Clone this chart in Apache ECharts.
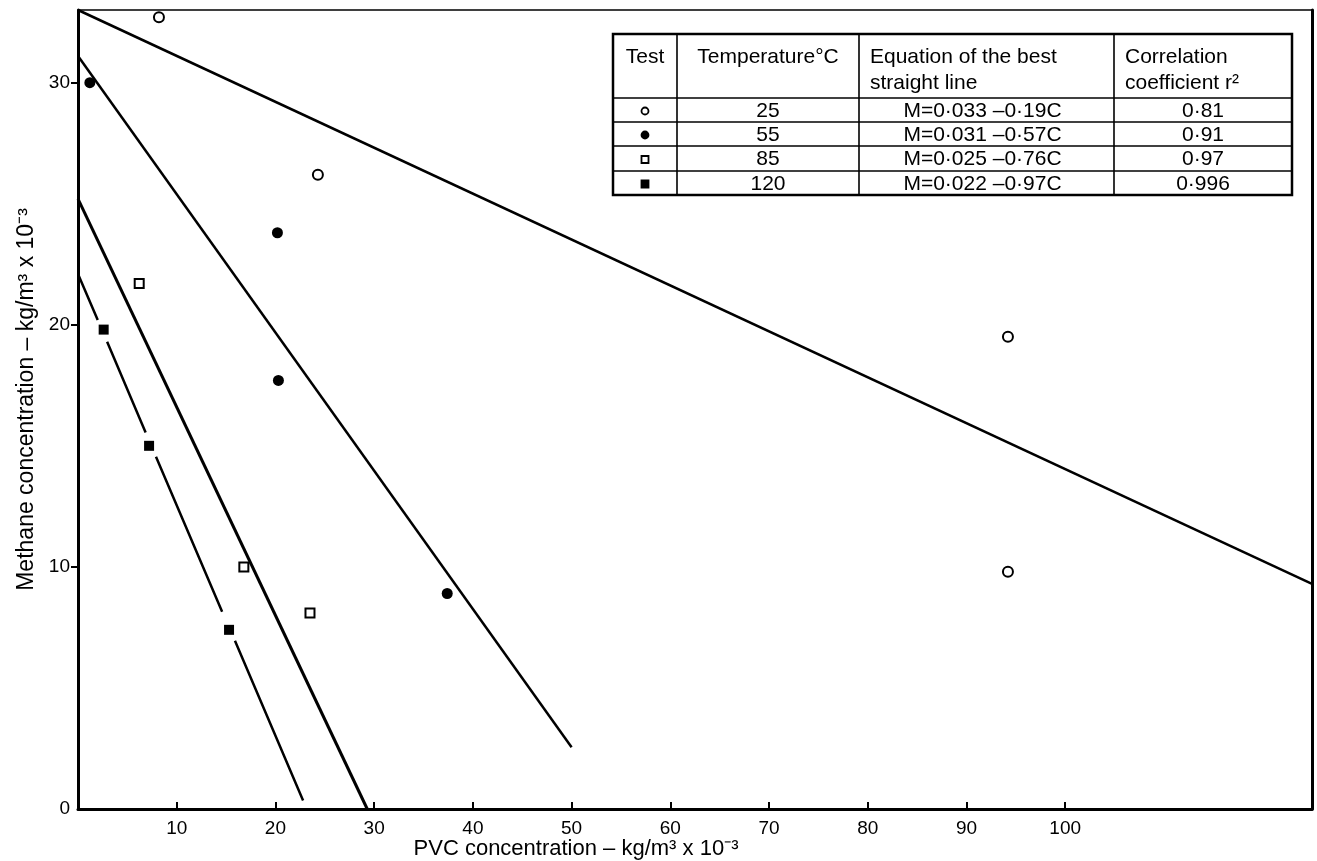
<!DOCTYPE html>
<html>
<head>
<meta charset="utf-8">
<script src="https://cdn.jsdelivr.net/npm/echarts@6/dist/echarts.min.js"></script>
<style>
html,body{margin:0;padding:0;background:#fff;}
#c{width:1317px;height:861px;}
</style>
</head>
<body>
<div id="c"></div>
<script>
// ---------------- data ----------------
const temps = ['25', '55', '85', '120'];
const equations = ['M=0·033 –0·19C', 'M=0·031 –0·57C', 'M=0·025 –0·76C', 'M=0·022 –0·97C'];
const r2Values = ['0·81', '0·91', '0·97', '0·996'];
const headTest = 'Test';
const headTemp = 'Temperature°C';
const headEq = ['Equation of the best', 'straight line'];
const headR2 = ['Correlation', 'coefficient r²'];

const xTickValues = [10, 20, 30, 40, 50, 60, 70, 80, 90, 100];
const yTickLabels = [0, 10, 20, 30];
const yTickMarks = [10, 20, 30];

const pts25 = [[8.2, 32.7], [24.3, 26.2], [94.2, 19.5], [94.2, 9.8]];
const pts55 = [[1.2, 30.0], [20.2, 23.8], [20.3, 17.7], [37.4, 8.9]];
const pts85 = [[6.2, 21.7], [16.8, 10.0], [23.5, 8.1]];
const pts120 = [[2.6, 19.8], [7.2, 15.0], [15.3, 7.4]];

const fit25 = [[0, 33.0], [125, 9.3]];
const fit55 = [[0, 31.1], [50.0, 2.55]];
const fit85 = [[0, 25.2], [29.3, 0]];
const fit120 = [[0, 22.1], [2.0, 20.2], [2.4, '-'], [2.95, 19.3], [6.85, 15.55], [7.4, '-'],
                [7.9, 14.55], [14.6, 8.15], [15.3, '-'], [15.9, 6.95], [22.8, 0.35]];

const xName = 'PVC concentration – kg/m³ x 10⁻³';
const yName = 'Methane concentration – kg/m³ x 10⁻³';

// ---------------- layout / style ----------------
const FONT = '"Liberation Sans", Arial, Helvetica, sans-serif';
const colX = [613, 677, 859, 1114, 1292];
const rowY = [34, 98, 122, 146, 171, 195];

const chart = echarts.init(document.getElementById('c'));

const graphics = [];
graphics.push({
  type: 'rect', z: 100,
  shape: { x: colX[0], y: rowY[0], width: colX[4] - colX[0], height: rowY[5] - rowY[0] },
  style: { fill: '#fff', stroke: '#000', lineWidth: 2.5 }
});
for (let i = 1; i < colX.length - 1; i++) {
  graphics.push({ type: 'line', z: 101,
    shape: { x1: colX[i], y1: rowY[0], x2: colX[i], y2: rowY[5] },
    style: { stroke: '#000', lineWidth: 1.6 } });
}
for (let j = 1; j < rowY.length - 1; j++) {
  graphics.push({ type: 'line', z: 101,
    shape: { x1: colX[0], y1: rowY[j], x2: colX[4], y2: rowY[j] },
    style: { stroke: '#000', lineWidth: 1.6 } });
}
function txt(t, x, y, align) {
  graphics.push({ type: 'text', z: 102,
    style: { text: t, x: x, y: y, fill: '#000', font: '21px ' + FONT,
             align: align || 'center', verticalAlign: 'middle' } });
}
const hL1 = 57, hL2 = 83;
txt(headTest, (colX[0] + colX[1]) / 2, hL1);
txt(headTemp, (colX[1] + colX[2]) / 2, hL1);
txt(headEq[0], colX[2] + 11, hL1, 'left');
txt(headEq[1], colX[2] + 11, hL2, 'left');
txt(headR2[0], colX[3] + 11, hL1, 'left');
txt(headR2[1], colX[3] + 11, hL2, 'left');
for (let r = 0; r < temps.length; r++) {
  const cy = (rowY[r + 1] + rowY[r + 2]) / 2 + 1;
  txt(temps[r], (colX[1] + colX[2]) / 2, cy);
  txt(equations[r], (colX[2] + colX[3]) / 2 - 4, cy);
  txt(r2Values[r], (colX[3] + colX[4]) / 2, cy);
  const sx = (colX[0] + colX[1]) / 2;
  if (r === 0 || r === 1) {
    graphics.push({ type: 'circle', z: 102, shape: { cx: sx, cy: cy, r: 3.5 },
      style: { fill: r === 1 ? '#000' : '#fff', stroke: '#000', lineWidth: 1.8 } });
  } else {
    graphics.push({ type: 'rect', z: 102, shape: { x: sx - 3.5, y: cy - 3.5, width: 7, height: 7 },
      style: { fill: r === 3 ? '#000' : '#fff', stroke: '#000', lineWidth: 1.8 } });
  }
}

function lineSeries(data, w) {
  return { type: 'line', data: data, xAxisIndex: 0, yAxisIndex: 0, showSymbol: false, symbol: 'none',
    connectNulls: false, silent: true, z: 3, lineStyle: { color: '#000', width: w }, animation: false };
}
function pointSeries(data, symbol, filled, size) {
  return { type: 'scatter', data: data, xAxisIndex: 0, yAxisIndex: 0, symbol: symbol, symbolSize: size,
    silent: true, z: 5, animation: false,
    itemStyle: { color: filled ? '#000' : '#fff', borderColor: '#000', borderWidth: filled ? 0 : 2, opacity: 1 } };
}

const option = {
  animation: false,
  backgroundColor: '#fff',
  textStyle: { fontFamily: FONT, color: '#000' },
  grid: { left: 78, right: 5, top: 10, bottom: 52, containLabel: false, outerBoundsMode: 'none' },
  xAxis: [{
    type: 'value', min: 0, max: 125, interval: 10, position: 'bottom',
    name: xName, nameLocation: 'middle', nameGap: 28, nameMoveOverlap: false,
    nameTextStyle: { fontSize: 22, lineHeight: 24, color: '#000', fontFamily: FONT, padding: [0, 238, 0, 0] },
    axisLine: { show: true, onZero: false, lineStyle: { color: '#000', width: 3 } },
    axisTick: { show: true, inside: true, length: 7, customValues: xTickValues, lineStyle: { color: '#000', width: 2 } },
    axisLabel: { show: true, margin: 10, fontSize: 19, color: '#000', fontFamily: FONT, customValues: xTickValues,
      formatter: v => (xTickValues.indexOf(v) >= 0 ? String(v) : '') },
    splitLine: { show: false }
  }, {
    type: 'value', min: 0, max: 125, position: 'top',
    axisLine: { show: true, onZero: false, lineStyle: { color: '#000', width: 1.6 } },
    axisTick: { show: false }, axisLabel: { show: false }, splitLine: { show: false }
  }],
  yAxis: [{
    type: 'value', min: 0, max: 33, interval: 10, position: 'left',
    name: yName, nameLocation: 'middle', nameGap: 40, nameMoveOverlap: false,
    nameTextStyle: { fontSize: 23, color: '#000', fontFamily: FONT, padding: [0, 0, 0, 20] },
    axisLine: { show: true, onZero: false, lineStyle: { color: '#000', width: 3 } },
    axisTick: { show: true, inside: false, length: 7, customValues: yTickMarks, lineStyle: { color: '#000', width: 2 } },
    axisLabel: { show: true, margin: 8, fontSize: 19, color: '#000', fontFamily: FONT, customValues: yTickLabels,
      formatter: v => (yTickLabels.indexOf(v) >= 0 ? String(v) : '') },
    splitLine: { show: false }
  }, {
    type: 'value', min: 0, max: 33, position: 'right',
    axisLine: { show: true, onZero: false, lineStyle: { color: '#000', width: 3 } },
    axisTick: { show: false }, axisLabel: { show: false }, splitLine: { show: false }
  }],
  series: [
    lineSeries(fit25, 2.5),
    lineSeries(fit55, 2.5),
    lineSeries(fit85, 3),
    lineSeries(fit120, 2.5),
    pointSeries(pts25, 'circle', false, 10),
    pointSeries(pts55, 'circle', true, 11),
    pointSeries(pts85, 'rect', false, 9),
    pointSeries(pts120, 'rect', true, 10)
  ],
  graphic: graphics
};
chart.setOption(option);
</script>
</body>
</html>
